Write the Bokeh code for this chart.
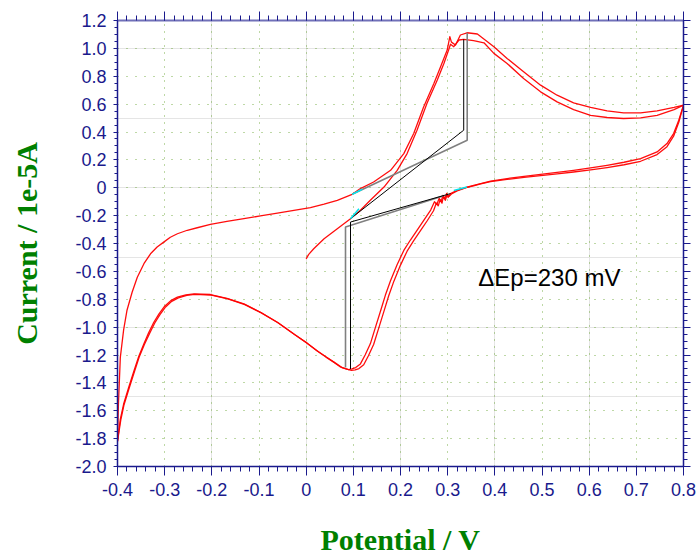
from bokeh.plotting import figure
from bokeh.models import Range1d, LinearAxis, FixedTicker, CustomJSTickFormatter, Label, Grid
from bokeh.embed import file_html
from bokeh.resources import INLINE
import numpy as np

# ---- data (potential / V, current / 1e-5 A) ----
fwd1_x = [0.0, 0.005, 0.016, 0.038, 0.066, 0.094, 0.115, 0.136, 0.165, 0.193, 0.214, 0.235, 0.256, 0.278,
          0.292, 0.302, 0.306, 0.313, 0.324, 0.334, 0.355, 0.377, 0.398, 0.426, 0.461, 0.497, 0.532, 0.567,
          0.603, 0.638, 0.673, 0.709, 0.744, 0.78, 0.8]
fwd1_y = [-0.51, -0.48, -0.438, -0.366, -0.294, -0.222, -0.162, -0.09, 0.005, 0.125, 0.245, 0.413, 0.605, 0.773,
          0.892, 0.988, 1.03, 1.012, 1.06, 1.065, 1.055, 1.04, 0.964, 0.892, 0.784, 0.688, 0.616, 0.561,
          0.52, 0.504, 0.497, 0.501, 0.52, 0.561, 0.593]

rev1_x = [0.8, 0.79, 0.779, 0.765, 0.744, 0.709, 0.674, 0.638, 0.603, 0.567, 0.532, 0.497, 0.462, 0.426,
          0.391, 0.37, 0.355, 0.341, 0.32, 0.306, 0.301, 0.298, 0.294, 0.29, 0.286, 0.282, 0.277, 0.272,
          0.264, 0.25, 0.235, 0.221, 0.207, 0.193, 0.179, 0.168, 0.158, 0.147, 0.136, 0.125, 0.115, 0.105,
          0.097, 0.09, 0.083, 0.072, 0.06, 0.042, 0.023, 0.0, -0.026, -0.061, -0.097, -0.132, -0.168, -0.203,
          -0.238, -0.255, -0.273, -0.287, -0.3, -0.312, -0.323, -0.334, -0.344, -0.355, -0.365, -0.376,
          -0.387, -0.394, -0.4]
rev1_y = [0.593, 0.485, 0.389, 0.317, 0.257, 0.209, 0.183, 0.161, 0.142, 0.125, 0.11, 0.096, 0.081, 0.066,
          0.048, 0.03, 0.017, 0.005, -0.019, -0.042, -0.07, -0.04, -0.08, -0.055, -0.1, -0.075, -0.12, -0.1,
          -0.16, -0.23, -0.306, -0.375, -0.45, -0.55, -0.666, -0.77, -0.881, -1.0, -1.12, -1.2, -1.264, -1.29,
          -1.3, -1.305, -1.298, -1.285, -1.255, -1.215, -1.169, -1.11, -1.049, -0.965, -0.893, -0.833, -0.793, -0.766,
          -0.761, -0.768, -0.785, -0.81, -0.85, -0.905, -0.965, -1.04, -1.12, -1.21, -1.313, -1.43,
          -1.552, -1.66, -1.816]

fwd2_x = [-0.4, -0.398, -0.394, -0.387, -0.38, -0.369, -0.358, -0.344, -0.33, -0.316, -0.302, -0.288, -0.273,
          -0.252, -0.231, -0.203, -0.168, -0.132, -0.097, -0.061, -0.026, 0.009, 0.038, 0.066, 0.0975, 0.115,
          0.143, 0.179, 0.207, 0.228, 0.249, 0.271, 0.285, 0.299, 0.3046, 0.308, 0.3166, 0.327, 0.341, 0.363,
          0.398, 0.426, 0.461, 0.497, 0.532, 0.567, 0.603, 0.638, 0.673, 0.709, 0.744, 0.78, 0.8]
fwd2_y = [-1.82, -1.55, -1.217, -1.02, -0.881, -0.75, -0.642, -0.545, -0.474, -0.425, -0.39, -0.355, -0.33,
          -0.305, -0.287, -0.263, -0.242, -0.222, -0.202, -0.182, -0.163, -0.143, -0.118, -0.09, -0.047, -0.006,
          0.041, 0.125, 0.245, 0.389, 0.58, 0.749, 0.868, 0.988, 1.084, 1.045, 1.024, 1.096, 1.112, 1.103,
          1.012, 0.928, 0.832, 0.736, 0.664, 0.609, 0.576, 0.552, 0.537, 0.537, 0.552, 0.576, 0.593]

rev2_x = [0.8, 0.79, 0.779, 0.765, 0.744, 0.709, 0.674, 0.638, 0.603, 0.567, 0.532, 0.497, 0.462, 0.426,
          0.391, 0.37, 0.355, 0.341, 0.32, 0.308, 0.303, 0.299, 0.295, 0.291, 0.288, 0.284, 0.28, 0.276,
          0.27, 0.257, 0.242, 0.228, 0.214, 0.2, 0.186, 0.175, 0.165, 0.154, 0.143, 0.132, 0.122, 0.112,
          0.104, 0.096, 0.088, 0.076, 0.063, 0.045, 0.025, 0.002, -0.024, -0.059, -0.095, -0.13, -0.166, -0.201,
          -0.236, -0.253, -0.271, -0.285, -0.298, -0.31, -0.321, -0.332, -0.343, -0.354, -0.364, -0.375,
          -0.386, -0.393, -0.4]
rev2_y = [0.593, 0.47, 0.37, 0.295, 0.238, 0.19, 0.165, 0.145, 0.128, 0.113, 0.1, 0.087, 0.074, 0.06,
          0.044, 0.027, 0.014, 0.002, -0.022, -0.045, -0.062, -0.048, -0.09, -0.06, -0.11, -0.085, -0.13, -0.11,
          -0.165, -0.235, -0.31, -0.38, -0.455, -0.555, -0.67, -0.775, -0.885, -1.005, -1.125, -1.205, -1.27, -1.297,
          -1.307, -1.31, -1.303, -1.29, -1.26, -1.22, -1.175, -1.115, -1.055, -0.97, -0.898, -0.838, -0.797, -0.77,
          -0.765, -0.772, -0.79, -0.815, -0.855, -0.91, -0.97, -1.045, -1.125, -1.215, -1.318, -1.435,
          -1.555, -1.665, -1.82]

# peak-baseline constructions
ox_base1_x = [0.094, 0.334, 0.334]
ox_base1_y = [-0.222, 0.413, 1.065]
ox_base2_x = [0.0975, 0.3414, 0.3414]
ox_base2_y = [-0.047, 0.341, 1.112]
red_base1_x = [0.306, 0.094, 0.094]
red_base1_y = [-0.042, -0.246, -1.30]
red_base2_x = [0.29, 0.0834, 0.0834]
red_base2_y = [-0.06, -0.282, -1.29]

# cyan fit ranges
fit1_x = [0.094, 0.112]
fit1_y = [-0.222, -0.15]
fit2_x = [0.0975, 0.1187]
fit2_y = [-0.047, -0.011]
fit3_x = [0.313, 0.341]
fit3_y = [-0.02, 0.005]

x_ticks = [-0.4, -0.3, -0.2, -0.1, 0, 0.1, 0.2, 0.3, 0.4, 0.5, 0.6, 0.7, 0.8]
x_tick_labels = ["-0.4", "-0.3", "-0.2", "-0.1", "0", "0.1", "0.2", "0.3", "0.4", "0.5", "0.6", "0.7", "0.8"]
y_ticks = [1.2, 1.0, 0.8, 0.6, 0.4, 0.2, 0, -0.2, -0.4, -0.6, -0.8, -1.0, -1.2, -1.4, -1.6, -1.8, -2.0]
y_tick_labels = ["1.2", "1.0", "0.8", "0.6", "0.4", "0.2", "0", "-0.2", "-0.4", "-0.6", "-0.8", "-1.0",
                 "-1.2", "-1.4", "-1.6", "-1.8", "-2.0"]

annotation = "ΔEp=230 mV"

# ---- figure ----
NAVY = "#1a1a8c"
GREEN = "#008000"

p = figure(width=699, height=558, x_range=Range1d(-0.4, 0.8), y_range=Range1d(-2.0, 1.2),
           output_backend="svg", toolbar_location=None, x_axis_location=None, y_axis_location=None,
           min_border_left=117, min_border_right=16, min_border_top=20, min_border_bottom=92)
p.outline_line_color = None
p.background_fill_color = "white"
p.border_fill_color = "white"

x_minor = list(np.round(np.arange(-0.4, 0.8001, 0.02), 4))
y_minor = list(np.round(np.arange(-2.0, 1.2001, 0.05), 4))

fmt = CustomJSTickFormatter(code="return Math.abs(tick) < 1e-9 ? '0' : tick.toFixed(1);")
blank = CustomJSTickFormatter(code="return '';")

def style_axis(ax, tick_out, minor_out, line_color=NAVY, line_width=1.5):
    ax.axis_line_color = line_color
    ax.axis_line_width = line_width
    ax.major_tick_line_color = NAVY
    ax.minor_tick_line_color = NAVY
    ax.major_tick_in = 0
    ax.minor_tick_in = 0
    ax.major_tick_out = tick_out
    ax.minor_tick_out = minor_out
    ax.major_label_text_font = "Liberation Sans"
    ax.major_label_text_font_size = "18px"
    ax.major_label_text_color = NAVY
    ax.axis_label_text_font = "Liberation Serif"
    ax.axis_label_text_font_style = "bold"
    ax.axis_label_text_font_size = "30px"
    ax.axis_label_text_color = GREEN

bottom = LinearAxis(ticker=FixedTicker(ticks=x_ticks, minor_ticks=x_minor), formatter=fmt,
                    major_label_overrides=dict(zip(x_ticks, x_tick_labels)),
                    axis_label="Potential / V")
style_axis(bottom, 9, 5)
bottom.major_label_standoff = 7
bottom.axis_label_standoff = 24
p.add_layout(bottom, "below")

left = LinearAxis(ticker=FixedTicker(ticks=y_ticks, minor_ticks=y_minor), formatter=fmt,
                  major_label_overrides=dict(zip(y_ticks, y_tick_labels)),
                  axis_label="Current / 1e-5A")
style_axis(left, 4, 3)
left.major_label_standoff = 7
left.axis_label_standoff = 29
p.add_layout(left, "left")

top = LinearAxis(ticker=FixedTicker(ticks=x_ticks, minor_ticks=x_minor), formatter=blank)
style_axis(top, 9, 5, line_color="#7070b8", line_width=2)
top.major_label_standoff = 0
p.add_layout(top, "above")

right = LinearAxis(ticker=FixedTicker(ticks=y_ticks, minor_ticks=y_minor), formatter=blank)
style_axis(right, 7, 4)
right.major_label_standoff = 0
p.add_layout(right, "right")

# dotted grid
p.add_layout(Grid(dimension=0, ticker=FixedTicker(ticks=x_ticks), grid_line_color="#6fa83a",
                  grid_line_dash="1 6", grid_line_width=1, grid_line_alpha=0.9))
p.add_layout(Grid(dimension=1, ticker=FixedTicker(ticks=y_ticks), grid_line_color="#6fa83a",
                  grid_line_dash="1 8", grid_line_width=1, grid_line_alpha=0.9))

# CV curves
for xs, ys in [(fwd1_x, fwd1_y), (rev1_x, rev1_y), (fwd2_x, fwd2_y), (rev2_x, rev2_y)]:
    p.line(xs, ys, line_color="#ff0000", line_width=1.3, line_alpha=0.95, line_join="round")

# baseline constructions
p.line(ox_base2_x, ox_base2_y, line_color="#808080", line_width=1.6)
p.line(red_base2_x, red_base2_y, line_color="#808080", line_width=1.6)
p.line(ox_base1_x, ox_base1_y, line_color="#000000", line_width=1)
p.line(red_base1_x, red_base1_y, line_color="#000000", line_width=1)

for xs, ys in [(fit1_x, fit1_y), (fit2_x, fit2_y), (fit3_x, fit3_y)]:
    p.line(xs, ys, line_color="#00e5ee", line_width=1.5)

p.add_layout(Label(x=0.365, y=-0.646, text=annotation, text_font="Liberation Sans",
                   text_font_size="24px", text_color="#000000", text_baseline="alphabetic",
                   text_align="left"))

open("out.html", "w").write(file_html(p, INLINE))
